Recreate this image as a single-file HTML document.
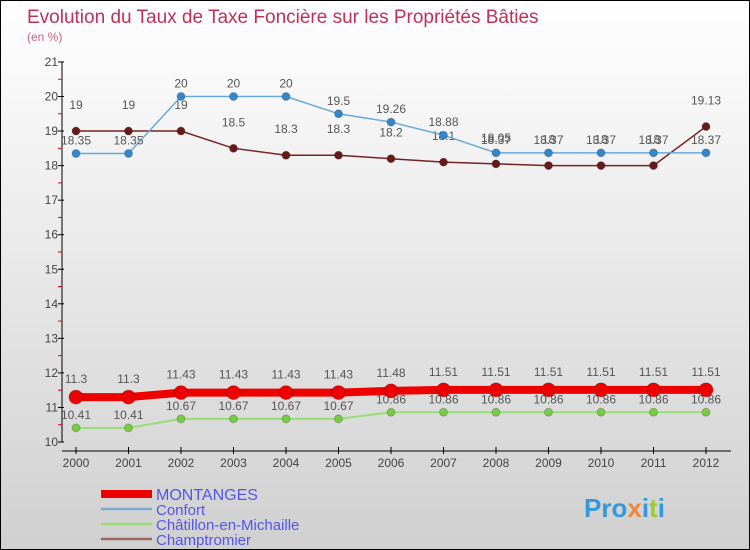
<!DOCTYPE html>
<html><head><meta charset="utf-8"><style>
body{margin:0}
#c{width:748px;height:548px;border:1px solid #000;background:linear-gradient(#fff,#d0d0d0);position:relative;font-family:"Liberation Sans",sans-serif}
svg{position:absolute;left:0;top:0}
</style></head><body>
<div id="c">
<svg id="s" width="748" height="548">
<text x="26" y="22" font-size="19" fill="#c0305a">Evolution du Taux de Taxe Foncière sur les Propriétés Bâties</text>
<text x="26" y="40" font-size="12" fill="#d06080">(en %)</text>
</svg>
</div>
<script>
const years=[2000,2001,2002,2003,2004,2005,2006,2007,2008,2009,2010,2011,2012];
const montanges=[11.3,11.3,11.43,11.43,11.43,11.43,11.48,11.51,11.51,11.51,11.51,11.51,11.51];
const confort=[18.35,18.35,20,20,20,19.5,19.26,18.88,18.37,18.37,18.37,18.37,18.37];
const chatillon=[10.41,10.41,10.67,10.67,10.67,10.67,10.86,10.86,10.86,10.86,10.86,10.86,10.86];
const champtromier=[19,19,19,18.5,18.3,18.3,18.2,18.1,18.05,18,18,18,19.13];
const yTicks=[10,11,12,13,14,15,16,17,18,19,20,21];
const seriesNames=["MONTANGES","Confort","Châtillon-en-Michaille","Champtromier"];
const NS="http://www.w3.org/2000/svg",s=document.getElementById('s');
const X=i=>75+i*52.5, Y=v=>441-(v-10)*34.55;
function el(t,a,p){const e=document.createElementNS(NS,t);for(const k in a)e.setAttribute(k,a[k]);(p||s).appendChild(e);return e;}
// axes
let ax=el('line',{x1:61,y1:61,x2:61,y2:441,stroke:'#000','stroke-width':1});


let xx=el('line',{x1:61,y1:450,x2:730,y2:450,stroke:'#000','stroke-width':1});


yTicks.forEach(v=>{
 el('line',{x1:57,y1:Y(v),x2:63,y2:Y(v),stroke:'#000'});
 if(v<21)el('line',{x1:57,y1:Y(v+0.5),x2:61,y2:Y(v+0.5),stroke:'#e00'});
 const t=el('text',{x:57,y:Y(v)+4,'text-anchor':'end','font-size':12,fill:'#444'});t.textContent=v;
 
 
});
years.forEach((y,i)=>{
 el('line',{x1:X(i),y1:446,x2:X(i),y2:453,stroke:'#000'});
 const t=el('text',{x:X(i),y:466,'text-anchor':'middle','font-size':12,fill:'#444'});t.textContent=y;
 
 
});
function series(data,color,w,r,name,dy,dotFill,labels){
 const g=el('g',{});
 
 
 el('polyline',{points:data.map((v,i)=>X(i)+','+Y(v)).join(' '),fill:'none',stroke:color,'stroke-width':w},g);
 data.forEach((v,i)=>{
  const c=el('circle',{cx:X(i),cy:Y(v),r:r,fill:dotFill,stroke:'rgba(0,0,0,0.2)'},g);
  
  
  const t=el('text',{x:X(i),y:Y(v)+dy,'text-anchor':'middle','font-size':12,fill:'#555'},g);
  t.textContent=labels?labels[i]:v;
  
  
 });
}
series(chatillon,'#99dd77',2,4,'chatillon-series',-9,'#77cc44');
series(montanges,'#ee0000',8,7,'montanges-series',-14,'#ee0000');
series(champtromier,'#772222',1.5,4,'champtromier-series',-22,'#661a1a');
series(confort,'#66aadd',1.5,4,'confort-series',-9,'#3388cc');
// legend
const lc=['#ee0000','#77aacc','#99dd77','#996666'],lw=[8,2.5,2.5,2.5];
seriesNames.forEach((n,i)=>{
 const y=493+i*15;
 el('line',{x1:100,y1:y,x2:151,y2:y,stroke:lc[i],'stroke-width':lw[i]});
 const t=el('text',{x:155,y:y+6,'font-size':i==0?16:15,fill:'#5555ee'});t.textContent=n;
 
 
});
const p=el('text',{x:583,y:516,'font-size':26,'font-weight':'bold',fill:'#3399dd'});
p.innerHTML='Pro<tspan fill="#ee8833">x</tspan>i<tspan fill="#99cc33">t</tspan>i';


</script>
</body></html>
